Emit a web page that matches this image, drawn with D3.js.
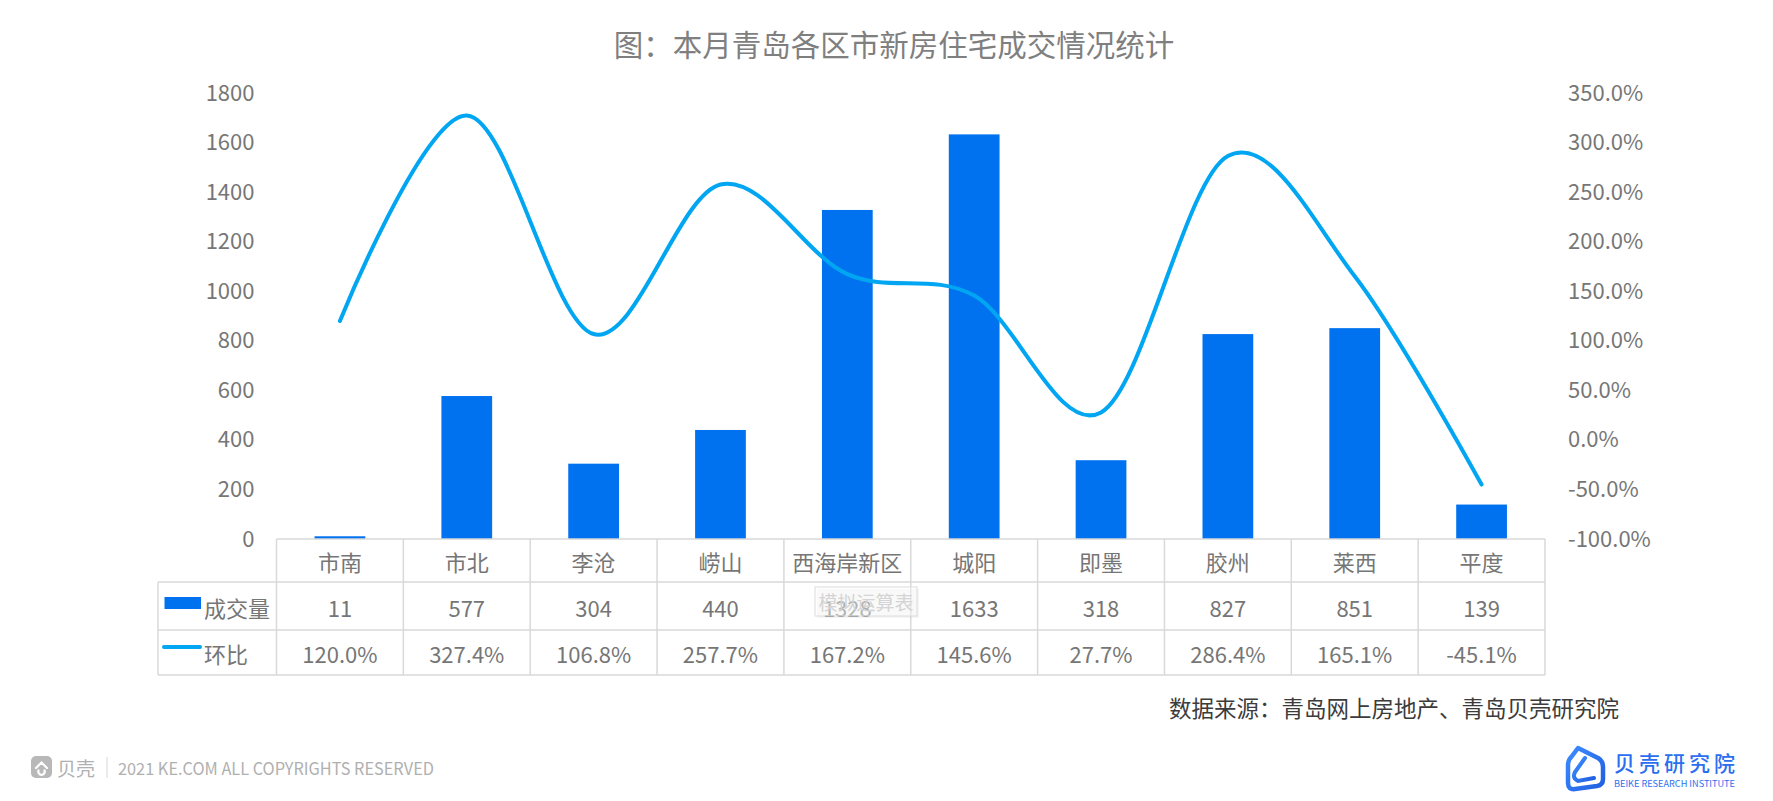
<!DOCTYPE html>
<html>
<head>
<meta charset="utf-8">
<script src="https://cdn.jsdelivr.net/npm/d3@7/dist/d3.min.js"></script>
<style>
  html, body { margin: 0; padding: 0; background: #fff; }
  svg { display: block; }
  text { font-family: "Noto Sans CJK SC", "Noto Sans", sans-serif; }
</style>
</head>
<body>
<svg id="chart" width="1773" height="801"></svg>
<script>
// ---- data ----
const categories = ["市南", "市北", "李沧", "崂山", "西海岸新区", "城阳", "即墨", "胶州", "莱西", "平度"];
const volumes = [11, 577, 304, 440, 1328, 1633, 318, 827, 851, 139];
const momChange = [120.0, 327.4, 106.8, 257.7, 167.2, 145.6, 27.7, 286.4, 165.1, -45.1];
const leftTicks = [0, 200, 400, 600, 800, 1000, 1200, 1400, 1600, 1800];
const rightTicks = [-100, -50, 0, 50, 100, 150, 200, 250, 300, 350];
const seriesNames = ["成交量", "环比"];
const titleText = "图：本月青岛各区市新房住宅成交情况统计";
const sourceText = "数据来源：青岛网上房地产、青岛贝壳研究院";
const copyrightText = "2021 KE.COM ALL COPYRIGHTS  RESERVED";

// ---- style ----
const barColor = "#0072F0";
const lineColor = "#00A6F2";
const textColor = "#767676";
const gridColor = "#d9d9d9";

const svg = d3.select("#chart");

// ---- layout ----
const plotLeft = 276.5, plotRight = 1545, plotTop = 93, plotBottom = 539;
const tableLeft = 158;
const rowY = [539, 582, 630, 675];

const x = d3.scaleBand().domain(categories).range([plotLeft, plotRight]).paddingInner(0.6).paddingOuter(0.3);
const yL = d3.scaleLinear().domain([0, 1800]).range([plotBottom, plotTop]);
const yR = d3.scaleLinear().domain([-100, 350]).range([plotBottom, plotTop]);
const cx = c => x(c) + x.bandwidth() / 2;

// title
svg.append("text").attr("x", 894).attr("y", 43)
  .attr("text-anchor", "middle").attr("dominant-baseline", "central")
  .attr("font-size", 29.5).attr("fill", "#7f7f7f").text(titleText);

// axes
const axL = svg.append("g").attr("transform", `translate(${plotLeft},0)`)
  .call(d3.axisLeft(yL).tickValues(leftTicks).tickSize(0).tickPadding(22).tickFormat(d3.format("d")));
const axR = svg.append("g").attr("transform", `translate(${plotRight},0)`)
  .call(d3.axisRight(yR).tickValues(rightTicks).tickSize(0).tickPadding(23).tickFormat(d => d.toFixed(1) + "%"));
[axL, axR].forEach(a => {
  a.select(".domain").remove();
  a.selectAll("text").attr("font-size", 22).attr("fill", textColor)
    .style("font-family", '"Noto Sans CJK SC", sans-serif');
});

// bars
svg.append("g").selectAll("rect").data(categories).join("rect")
  .attr("x", c => x(c)).attr("width", x.bandwidth())
  .attr("y", (c, i) => yL(volumes[i]))
  .attr("height", (c, i) => yL(0) - yL(volumes[i]))
  .attr("fill", barColor);

// table grid
const grid = svg.append("g").attr("stroke", gridColor).attr("stroke-width", 1.5);
grid.append("line").attr("x1", plotLeft).attr("x2", plotRight).attr("y1", rowY[0]).attr("y2", rowY[0]);
rowY.slice(1).forEach(yv => grid.append("line").attr("x1", tableLeft).attr("x2", plotRight).attr("y1", yv).attr("y2", yv));
grid.append("line").attr("x1", tableLeft).attr("x2", tableLeft).attr("y1", rowY[1]).attr("y2", rowY[3]);
const bounds = categories.map(c => cx(c) - x.step() / 2).concat([cx(categories[categories.length - 1]) + x.step() / 2]);
bounds.forEach(bx => grid.append("line").attr("x1", bx).attr("x2", bx).attr("y1", rowY[0]).attr("y2", rowY[3]));

// line (smoothed)
const line = d3.line().x((d, i) => cx(categories[i])).y(d => yR(d)).curve(d3.curveCardinal.tension(0));
svg.append("path").datum(momChange).attr("d", line)
  .attr("fill", "none").attr("stroke", lineColor).attr("stroke-width", 4)
  .attr("stroke-linecap", "round").attr("stroke-linejoin", "round");

// table text
const tt = svg.append("g").attr("font-size", 22).attr("fill", textColor)
  .attr("text-anchor", "middle").attr("dominant-baseline", "central");
categories.forEach((c, i) => {
  tt.append("text").attr("x", cx(c)).attr("y", 561).text(c);
  tt.append("text").attr("x", cx(c)).attr("y", 607).text(volumes[i]);
  tt.append("text").attr("x", cx(c)).attr("y", 653).text(momChange[i].toFixed(1) + "%");
});

// legend keys in table
svg.append("rect").attr("x", 164.5).attr("y", 597).attr("width", 36.5).attr("height", 12).attr("fill", barColor);
svg.append("line").attr("x1", 164).attr("x2", 200).attr("y1", 647).attr("y2", 647)
  .attr("stroke", lineColor).attr("stroke-width", 4).attr("stroke-linecap", "round");
svg.append("text").attr("x", 204).attr("y", 607).attr("dominant-baseline", "central")
  .attr("font-size", 22).attr("fill", textColor).text(seriesNames[0]);
svg.append("text").attr("x", 204).attr("y", 653).attr("dominant-baseline", "central")
  .attr("font-size", 22).attr("fill", textColor).text(seriesNames[1]);

// faint "data table" tooltip artifact (present in the reference over the 1328 cell)
const tip = svg.append("g");
tip.append("rect").attr("x", 817).attr("y", 589).attr("width", 102).attr("height", 29)
  .attr("fill", "#000").attr("opacity", 0.04);
tip.append("rect").attr("x", 815).attr("y", 587).attr("width", 102).attr("height", 29)
  .attr("fill", "#fff").attr("fill-opacity", 0.45).attr("stroke", "#dcdcdc").attr("stroke-width", 1);
tip.append("text").attr("x", 866).attr("y", 601).attr("text-anchor", "middle").attr("dominant-baseline", "central")
  .attr("font-size", 19).attr("fill", "#d4d4d4").text("模拟运算表");

// source
svg.append("text").attr("x", 1619).attr("y", 707).attr("text-anchor", "end").attr("dominant-baseline", "central")
  .attr("font-size", 22.5).attr("fill", "#3c3c3c").text(sourceText);

// footer left
const foot = svg.append("g");
foot.append("rect").attr("x", 31).attr("y", 756).attr("width", 21).attr("height", 22).attr("rx", 5).attr("fill", "#b8b8b8");
foot.append("path").attr("d", "M36,768 L41.5,762.5 L47,768 M38.5,770.5 A3.2,3.2 0 1,0 44.5,770.5")
  .attr("fill", "none").attr("stroke", "#fff").attr("stroke-width", 2.2).attr("stroke-linecap", "round");
foot.append("text").attr("x", 57).attr("y", 767).attr("dominant-baseline", "central")
  .attr("font-size", 19).attr("fill", "#b0b0b0").text("贝壳");
foot.append("line").attr("x1", 107).attr("x2", 107).attr("y1", 757).attr("y2", 778).attr("stroke", "#dcdcdc").attr("stroke-width", 1.2);
foot.append("text").attr("x", 118).attr("y", 767).attr("dominant-baseline", "central")
  .attr("font-size", 17).attr("fill", "#b0b0b0").attr("textLength", 316).attr("lengthAdjust", "spacingAndGlyphs")
  .text(copyrightText);

// logo bottom right
const logo = svg.append("g");
const grad = svg.append("defs").append("linearGradient").attr("id", "lg").attr("x1", "0").attr("y1", "0").attr("x2", "1").attr("y2", "1");
grad.append("stop").attr("offset", "0").attr("stop-color", "#3d8bff");
grad.append("stop").attr("offset", "1").attr("stop-color", "#1f5fe0");
logo.append("path")
  .attr("d", "M1578,748 L1598,758 Q1603,761 1603,767 L1603,779 Q1603,785 1597,786 L1575,789 Q1568,790 1568,783 L1568,765 Q1568,760 1572,756 Z")
  .attr("fill", "none").attr("stroke", "url(#lg)").attr("stroke-width", 4.5).attr("stroke-linejoin", "round");
logo.append("path")
  .attr("d", "M1585,758 L1575,772 Q1572,778 1578,781 L1594,778")
  .attr("fill", "none").attr("stroke", "url(#lg)").attr("stroke-width", 4).attr("stroke-linecap", "round");
logo.append("text").attr("x", 1614).attr("y", 762).attr("dominant-baseline", "central")
  .attr("font-size", 21).attr("font-weight", 500).attr("fill", "#2b6ff0")
  .attr("textLength", 121).attr("lengthAdjust", "spacing").text("贝壳研究院");
logo.append("text").attr("x", 1614).attr("y", 783).attr("dominant-baseline", "central")
  .attr("font-size", 8.5).attr("fill", "#2b6ff0").attr("textLength", 121).attr("lengthAdjust", "spacingAndGlyphs")
  .text("BEIKE RESEARCH INSTITUTE");
</script>
</body>
</html>
